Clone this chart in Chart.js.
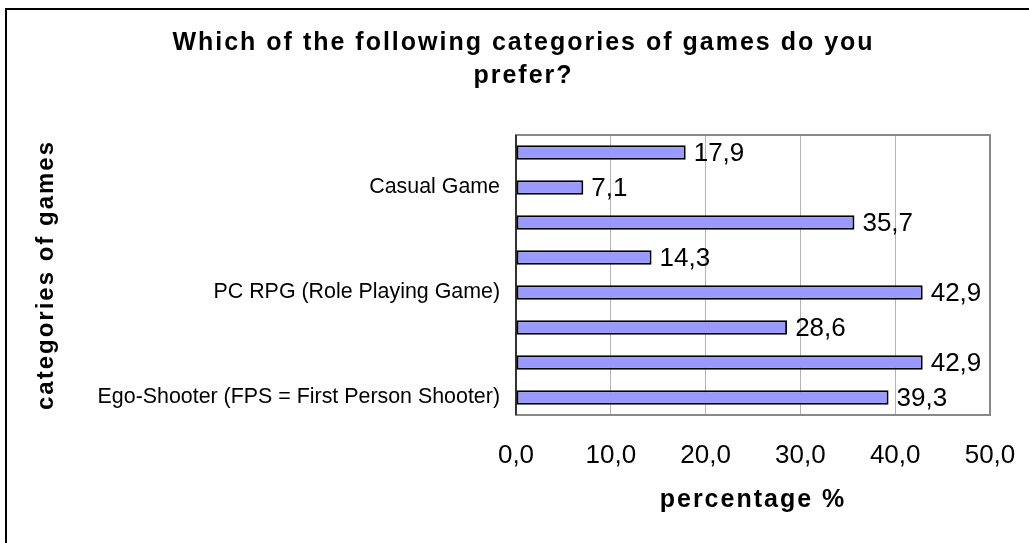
<!DOCTYPE html>
<html>
<head>
<meta charset="utf-8">
<script src="https://cdn.jsdelivr.net/npm/chart.js@4.4.1/dist/chart.umd.min.js"></script>
<style>
  html, body { margin: 0; padding: 0; background: #fff; overflow: hidden; }
  #frame { position: absolute; left: 5px; top: 8px; width: 1100px; height: 600px;
           border-top: 2px solid #000; border-left: 2px solid #000; }
  #wrap { position: absolute; left: 0; top: 0; width: 1029px; height: 543px; }
</style>
</head>
<body>
<div id="frame"></div>
<div id="wrap"><canvas id="viz" width="1029" height="543"></canvas></div>
<script>
// categories top to bottom; Excel only printed every third label
const categories = ['', 'Casual Game', '', '', 'PC RPG (Role Playing Game)', '', '', 'Ego-Shooter (FPS = First Person Shooter)'];
const percentages = [17.9, 7.1, 35.7, 14.3, 42.9, 28.6, 42.9, 39.3];
const xTicks = [0, 10, 20, 30, 40, 50];

const FONT = 'Arial, "Liberation Sans", sans-serif';
const fmt = v => Number(v).toFixed(1).replace('.', ',');

// wide tracking for the titles, plain text for labels
const tracking = {
  id: 'tracking',
  beforeDraw(chart) { chart.ctx.letterSpacing = '2px'; },
  beforeDatasetsDraw(chart) {
    const ctx = chart.ctx;
    ctx.letterSpacing = '0px';
    // plot frame
    const a = chart.chartArea;
    ctx.save();
    ctx.strokeStyle = '#888888';
    ctx.lineWidth = 2;
    ctx.strokeRect(a.left, a.top, a.right - a.left, a.bottom - a.top);
    ctx.strokeStyle = '#333333';
    ctx.beginPath();
    ctx.moveTo(a.left, a.top);
    ctx.lineTo(a.left, a.bottom);
    ctx.stroke();
    ctx.restore();
  },
  afterDraw(chart) { chart.ctx.letterSpacing = '0px'; }
};

const valueLabels = {
  id: 'valueLabels',
  afterDatasetsDraw(chart) {
    const ctx = chart.ctx;
    const meta = chart.getDatasetMeta(0);
    ctx.save();
    ctx.letterSpacing = '0px';
    ctx.font = '26px ' + FONT;
    ctx.fillStyle = '#000';
    ctx.textAlign = 'left';
    ctx.textBaseline = 'middle';
    meta.data.forEach((bar, i) => {
      ctx.fillText(fmt(percentages[i]), bar.x + 8, bar.y + 1);
    });
    ctx.restore();
  }
};

const ctx = document.getElementById('viz');
const chart = new Chart(ctx, {
  type: 'bar',
  data: {
    labels: categories,
    datasets: [{
      data: percentages,
      backgroundColor: '#9999ff',
      borderColor: '#000000',
      borderWidth: 2,
      borderSkipped: false,
      barPercentage: 0.41,
      categoryPercentage: 1.0
    }]
  },
  options: {
    indexAxis: 'y',
    responsive: false,
    animation: false,
    layout: { padding: { left: 57, right: 39, top: 0, bottom: 0 } },
    plugins: {
      legend: { display: false },
      tooltip: { enabled: false },
      title: {
        display: true,
        text: ['Which of the following categories of games do you', 'prefer?'],
        color: '#000',
        font: { family: FONT, size: 25, weight: 'bold', lineHeight: 1.32 },
        padding: { top: 27, bottom: 42 }
      }
    },
    scales: {
      x: {
        min: 0,
        max: 50,
        afterBuildTicks: scale => { scale.ticks = xTicks.map(v => ({ value: v })); },
        afterFit: scale => { scale.height = 128; },
        // invisible tick marks push the labels down without widening the side padding
        grid: { color: '#b4b4b4', lineWidth: 1, drawTicks: true, tickLength: 25, tickColor: 'rgba(0,0,0,0)' },
        border: { display: false },
        ticks: {
          z: 1,
          padding: 0,
          color: '#000',
          font: { family: FONT, size: 26 },
          callback: v => fmt(v)
        },
        title: {
          display: true,
          text: 'percentage %',
          color: '#000',
          font: { family: FONT, size: 25, weight: 'bold' },
          padding: { top: 0, bottom: 28 }
        }
      },
      y: {
        afterFit: scale => { scale.width = 459; },
        grid: { display: false, drawTicks: false },
        border: { display: false },
        ticks: {
          z: 1,
          autoSkip: false,
          padding: 16,
          color: '#000',
          font: { family: FONT, size: 21.4 }
        },
        title: {
          display: true,
          text: 'categories of games',
          color: '#000',
          font: { family: FONT, size: 24, weight: 'bold' },
          padding: { top: -25, bottom: 0 }
        }
      }
    }
  },
  plugins: [tracking, valueLabels]
});
</script>
</body>
</html>
